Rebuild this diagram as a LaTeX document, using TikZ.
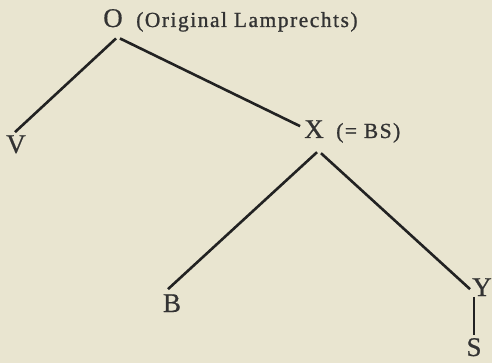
\documentclass[tikz,border=0pt]{standalone}
\usepackage{fontspec}
\usetikzlibrary{calc}
\setmainfont{Liberation Serif}
\newfontfamily\labfont[FakeBold=0.6]{Liberation Serif}
\newfontfamily\spacedfont[LetterSpace=7,FakeBold=1]{Liberation Serif}
\definecolor{paper}{HTML}{E9E5D0}
\definecolor{ink}{HTML}{333333}
\definecolor{lineink}{HTML}{222222}
\tikzset{
  lab/.style={inner sep=0pt, text=ink, font=\labfont\fontsize{27}{27}\selectfont, anchor=base},
  note/.style={inner sep=0pt, text=ink, font=\spacedfont\fontsize{21.5}{21.5}\selectfont, anchor=base west},
  edge/.style={draw=lineink, line width=2.6pt}
}
\begin{document}
\begin{tikzpicture}[x=1pt, y=-1pt]
\fill[paper] (0,0) rectangle (492,363);
\useasboundingbox (0,0) rectangle (492,363);

\node[lab] (O) at (113,27) {O};
\node[note] (Ot) at (136,27) {(Original Lamprechts)};
\node[lab] (V) at (16,153) {V};
\node[lab] (X) at (314,138) {X};
\node[note] (Xt) at (336,138) {(= BS)};
\node[lab] (B) at (172,312) {B};
\node[lab] (Y) at (482,296) {Y};
\node[lab] (S) at (474,356) {S};

\draw[edge] ($(O.south)+(3,11)$) -- ($(V.north)+(-1,-3)$);
\draw[edge] ($(O.south)+(7,11)$) -- ($(X.west)+(-4,-3)$);
\draw[edge] ($(X.south)+(3,14)$) -- ($(B.north)+(-4,-5)$);
\draw[edge] ($(X.south)+(7,15)$) -- ($(Y.west)+(-2,2)$);
\draw[edge] ($(S.north)+(0,-41)$) -- ($(S.north)+(0,-3)$);
\end{tikzpicture}
\end{document}
